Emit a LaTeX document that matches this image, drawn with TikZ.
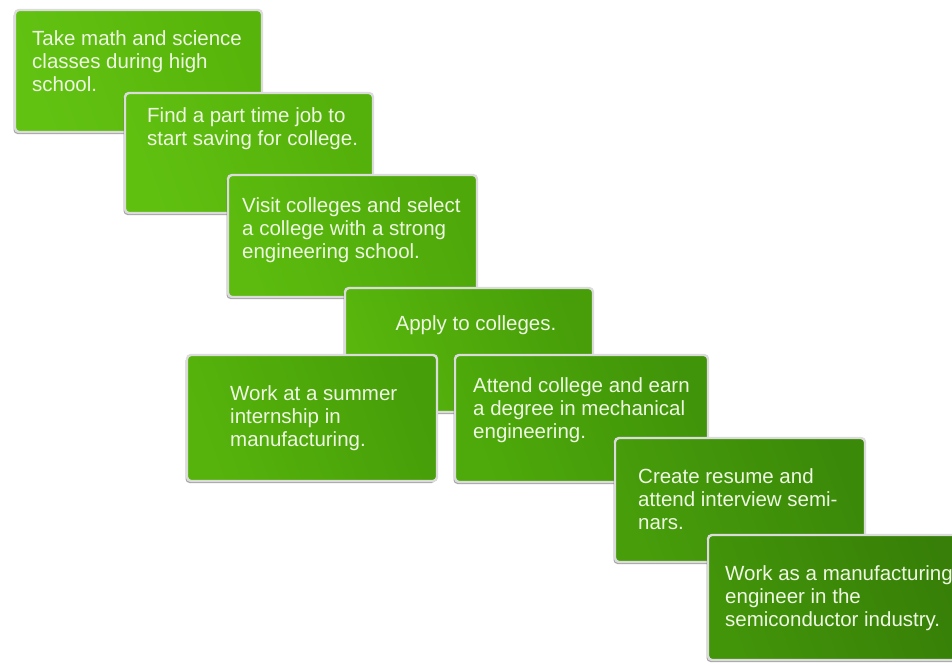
\documentclass[tikz,border=0pt]{standalone}
\usepackage{fontspec}
\setmainfont{Liberation Sans}
\usetikzlibrary{shadows,fit}
\definecolor{gA1}{HTML}{62C212}\definecolor{gA2}{HTML}{57B40A}
\definecolor{gB1}{HTML}{60C010}\definecolor{gB2}{HTML}{54B00A}
\definecolor{gC1}{HTML}{5CBB0E}\definecolor{gC2}{HTML}{4EA80A}
\definecolor{gD1}{HTML}{58B60C}\definecolor{gD2}{HTML}{479E09}
\definecolor{gE1}{HTML}{56B30B}\definecolor{gE2}{HTML}{469E09}
\definecolor{gF1}{HTML}{4EAA0A}\definecolor{gF2}{HTML}{409409}
\definecolor{gG1}{HTML}{479D0A}\definecolor{gG2}{HTML}{3B8909}
\definecolor{gH1}{HTML}{429409}\definecolor{gH2}{HTML}{377F08}
\definecolor{txtcol}{HTML}{EEF7E2}
\tikzset{
  x=1pt, y=-1pt,
  stepbox/.style 2 args={rectangle, rounded corners=4pt, inner sep=0pt,
    draw=white!86!black, line width=2.4pt,
    left color=#1, right color=#2, shading angle=110,
    drop shadow={shadow xshift=-1.5pt, shadow yshift=-2pt, opacity=0.35, fill=black}},
  steptext/.style={text=txtcol, inner sep=0pt, anchor=base west,
    font=\fontsize{20.5}{23}\selectfont},
}
\newcommand\steplines[1]{\parbox[t]{290pt}{\raggedright #1}}
\begin{document}
\begin{tikzpicture}
\useasboundingbox (0,0) rectangle (952,665);
\fill[white] (0,0) rectangle (952,665);
\node[stepbox={gA1}{gA2}, fit={(15,10) (262,132)}] (b1) {};
\node[steptext] (t1) at (32,45) {\steplines{Take math and science\\classes during high\\school.}};
\node[stepbox={gB1}{gB2}, fit={(125,93) (373,213)}] (b2) {};
\node[steptext] (t2) at (147,122) {\steplines{Find a part time job to\\start saving for college.}};
\node[stepbox={gC1}{gC2}, fit={(228,175) (477,297)}] (b3) {};
\node[steptext] (t3) at (242,212) {\steplines{Visit colleges and select\\a college with a strong\\engineering school.}};
\node[stepbox={gD1}{gD2}, fit={(345,288) (593,412)}] (b4) {};
\node[steptext, anchor=base] (t4) at (476,330) {Apply to colleges.};
\node[stepbox={gE1}{gE2}, fit={(187,355) (437,481)}] (b5) {};
\node[steptext] (t5) at (230,400) {\steplines{Work at a summer\\internship in\\manufacturing.}};
\node[stepbox={gF1}{gF2}, fit={(455,355) (708,482)}] (b6) {};
\node[steptext] (t6) at (473,392) {\steplines{Attend college and earn\\a degree in mechanical\\engineering.}};
\node[stepbox={gG1}{gG2}, fit={(615,438) (865,562)}] (b7) {};
\node[steptext] (t7) at (638,483) {\steplines{Create resume and\\attend interview semi-\\nars.}};
\node[stepbox={gH1}{gH2}, fit={(708,535) (968,660)}] (b8) {};
\node[steptext] (t8) at (725,580) {\steplines{Work as a manufacturing\\engineer in the\\semiconductor industry.}};
\end{tikzpicture}
\end{document}
